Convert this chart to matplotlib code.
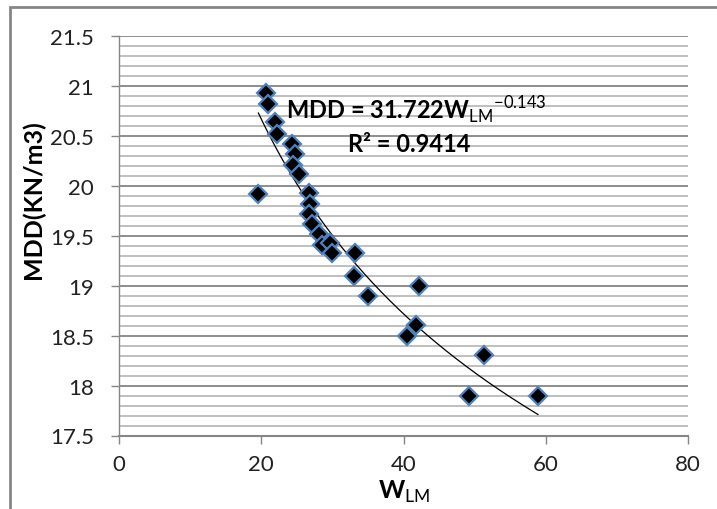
import numpy as np
import matplotlib
matplotlib.use("Agg")
import matplotlib.pyplot as plt
from matplotlib.patches import Rectangle
from matplotlib.ticker import MultipleLocator

# ---- data ----
w_lm = [20.7, 21.0, 21.9, 22.2, 24.3, 24.8, 24.5, 25.3, 19.6, 26.7, 26.9, 26.7,
        27.1, 28.1, 28.5, 29.7, 30.0, 33.2, 33.1, 42.2, 35.0, 41.8, 40.5, 51.3,
        49.2, 58.9]
mdd = [20.93, 20.82, 20.64, 20.52, 20.42, 20.32, 20.21, 20.12, 19.92, 19.93, 19.82, 19.72,
       19.62, 19.52, 19.41, 19.43, 19.33, 19.33, 19.10, 19.00, 18.90, 18.61, 18.50, 18.31,
       17.90, 17.90]
fit_a = 31.722
fit_b = -0.143
eq_text = "MDD = 31.722W$_{\\mathrm{LM}}$$^{\\mathrm{-0.143}}$"
r2_text = "R² = 0.9414"
x_ticks = [0, 20, 40, 60, 80]
y_ticks = [17.5, 18, 18.5, 19, 19.5, 20, 20.5, 21, 21.5]
y_ticklabels = ["17.5", "18", "18.5", "19", "19.5", "20", "20.5", "21", "21.5"]

plt.rcParams['font.family'] = ['Lato', 'DejaVu Sans']
plt.rcParams['mathtext.fontset'] = 'custom'
plt.rcParams['mathtext.rm'] = 'Lato'

W, H = 717, 510
fig = plt.figure(figsize=(W / 100, H / 100), dpi=100)
ax = fig.add_axes([119 / W, 1 - 436.5 / H, (688 - 119) / W, (436.5 - 37) / H])

# outer chart frame
fig.patches.append(Rectangle((10 / W, -0.2), 1.2, 1 - 8 / H + 0.2, transform=fig.transFigure,
                             fill=False, edgecolor='#868686', linewidth=2.0))

ax.set_xlim(0, 80)
ax.set_ylim(17.5, 21.5)

# gridlines
ax.grid(False)
for yv in np.arange(17.6, 21.51, 0.1):
    is_major = abs((yv * 2) - round(yv * 2)) < 1e-6
    ax.axhline(yv, color='#868686' if is_major else '#b4b4b4',
               linewidth=1.3 if is_major else 1.2, zorder=0)

# trendline
xs = np.linspace(min(w_lm), max(w_lm), 200)
ax.plot(xs, fit_a * xs ** fit_b, color='black', linewidth=0.9, zorder=2)

# points
ax.plot(w_lm, mdd, linestyle='none', marker='D', markersize=9,
        markerfacecolor='black', markeredgecolor='#4f81bd', markeredgewidth=1.6, zorder=3)

for s in ['top', 'right']:
    ax.spines[s].set_visible(False)
for s in ['left', 'bottom']:
    ax.spines[s].set_color('#868686')
    ax.spines[s].set_linewidth(1.0)
ax.spines['bottom'].set_linewidth(1.5)

ax.set_xticks(x_ticks)
ax.set_xticklabels([str(v) for v in x_ticks])
ax.set_yticks(y_ticks)
ax.set_yticklabels(y_ticklabels)
ax.tick_params(axis='both', which='major', direction='out', length=6, width=1.0,
               color='#868686', labelsize=16, labelcolor='#222222')
ax.tick_params(axis='y', which='major', pad=12)
ax.tick_params(axis='x', which='major', pad=7)

# axis titles
fig.text(33 / W, 1 - 200 / H, "MDD(KN/m3)", rotation=90, ha='center', va='center',
         fontsize=18, fontweight='bold')
fig.text(404 / W, 1 - 492 / H, "W$_{\\mathrm{LM}}$", ha='center', va='center',
         fontsize=18, fontweight='bold')

# trendline equation
fig.text(286 / W, 1 - 111 / H, eq_text, ha='left', va='center', fontsize=17, fontweight='bold')
fig.text(348 / W, 1 - 145 / H, r2_text, ha='left', va='center', fontsize=17, fontweight='bold')

fig.savefig("out.png", dpi=100)
